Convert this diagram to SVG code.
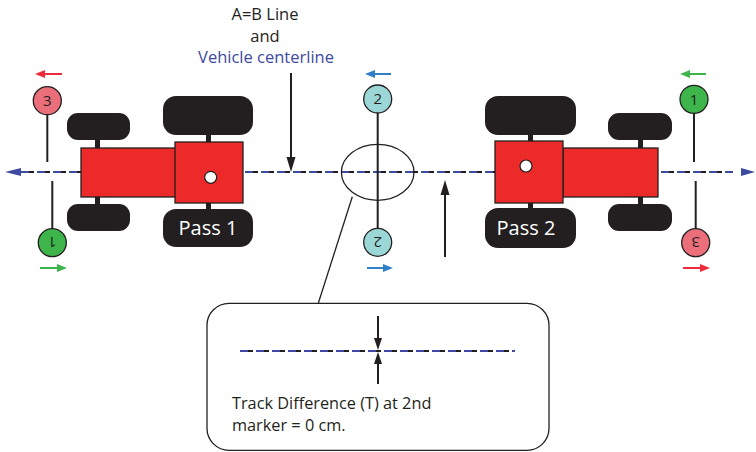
<svg xmlns="http://www.w3.org/2000/svg" width="756" height="452" viewBox="0 0 756 452">
  <style>
    .txt { font-family: "Open Sans", "Liberation Sans", sans-serif; fill: #231f20; }
    .blue-txt { fill: #3d4aa0; }
    .wheel { fill: #231f20; }
    .body { fill: #ed2a2a; stroke: #231f20; stroke-width: 1.3; }
    .hub { fill: #ffffff; stroke: #231f20; stroke-width: 1.2; }
    .pass { font-family: "Open Sans", "Liberation Sans", sans-serif; font-size: 20px; fill: #ffffff; text-anchor: middle; }
    .post { stroke: #231f20; stroke-width: 2; fill: none; }
    .num { font-family: "Open Sans", "Liberation Sans", sans-serif; font-size: 15px; fill: #231f20; text-anchor: middle; }
    .mk { stroke: #231f20; stroke-width: 1.3; }
    .line-k { stroke: #231f20; stroke-width: 2; stroke-dasharray: 8 8; stroke-dashoffset: -5; fill: none; }
    .line-b { stroke: #3d4aa0; stroke-width: 2; stroke-dasharray: 8 8; fill: none; }
    .thin { stroke: #231f20; stroke-width: 1.3; fill: none; }
    .ptr { stroke: #231f20; stroke-width: 2; fill: none; }
  </style>

  <!-- heading labels -->
  <g id="label-ab">
    <text class="txt" x="265" y="20" font-size="16.5" text-anchor="middle">A=B Line</text>
    <text class="txt" x="265" y="42" font-size="16.5" text-anchor="middle">and</text>
    <text class="txt blue-txt" x="266" y="63" font-size="16.5" text-anchor="middle">Vehicle centerline</text>
  </g>

  <!-- shared centerline -->
  <g id="connectors">
    <line class="line-k" x1="21" y1="172" x2="733" y2="172"/>
    <line class="line-b" x1="21" y1="172" x2="733" y2="172"/>
    <polygon points="5,172 21,168 21,176" fill="#3d4aa0"/>
    <polygon points="741,168 755,172 741,176" fill="#3d4aa0"/>

    <!-- pointer to the A=B line -->
    <line class="ptr" x1="291" y1="73" x2="291" y2="158"/>
    <polygon points="286.5,157 295.5,157 291,172" fill="#231f20"/>
    <!-- upward pointer -->
    <line class="ptr" x1="445" y1="194" x2="445" y2="257"/>
    <polygon points="440.5,195 449.5,195 445,180" fill="#231f20"/>

    <!-- callout ellipse and leader -->
    <ellipse class="thin" cx="377.7" cy="172.3" rx="36.3" ry="28"/>
    <line class="thin" x1="352.3" y1="196.7" x2="318.3" y2="303.3"/>
  </g>

  <!-- pass 1 tractor (facing left) -->
  <g id="tractor-pass1">
    <rect class="wheel" x="95" y="138" width="5" height="12"/>
    <rect class="wheel" x="95" y="195" width="5" height="11"/>
    <rect class="wheel" x="206" y="133" width="5" height="11"/>
    <rect class="wheel" x="206" y="201" width="5" height="10"/>
    <rect class="wheel" x="67" y="113" width="63" height="27" rx="11"/>
    <rect class="wheel" x="67" y="204" width="63" height="27" rx="11"/>
    <rect class="wheel" x="163" y="96" width="90" height="39" rx="13"/>
    <rect class="wheel" x="163" y="209" width="90" height="38" rx="13"/>
    <rect class="body" x="81" y="148" width="95" height="49"/>
    <rect class="body" x="175" y="142" width="68" height="61"/>
    <circle class="hub" cx="210.7" cy="177.3" r="6"/>
    <text class="pass" x="208" y="235">Pass 1</text>
  </g>

  <!-- pass 2 tractor (facing right) -->
  <g id="tractor-pass2">
    <rect class="wheel" x="638" y="138" width="5" height="12"/>
    <rect class="wheel" x="638" y="195" width="5" height="11"/>
    <rect class="wheel" x="528" y="133" width="5" height="11"/>
    <rect class="wheel" x="528" y="201" width="5" height="10"/>
    <rect class="wheel" x="608" y="113" width="64" height="27" rx="11"/>
    <rect class="wheel" x="608" y="204" width="64" height="27" rx="11"/>
    <rect class="wheel" x="485" y="96" width="91" height="39" rx="13"/>
    <rect class="wheel" x="485" y="208" width="91" height="40" rx="13"/>
    <rect class="body" x="563" y="148" width="95" height="49"/>
    <rect class="body" x="495" y="141" width="68" height="62"/>
    <circle class="hub" cx="526" cy="166" r="6"/>
    <text class="pass" x="526" y="235">Pass 2</text>
  </g>

  <!-- marker posts: left end -->
  <g id="marker-left">
    <line class="post" x1="47.3" y1="114" x2="47.3" y2="162"/>
    <line class="post" x1="52.3" y1="181" x2="52.3" y2="229"/>
    <circle class="mk" cx="47.3" cy="100.7" r="14" fill="#ea6f7b"/>
    <text class="num" x="47.3" y="106">3</text>
    <circle class="mk" cx="52.3" cy="242.7" r="14" fill="#3db54a"/>
    <text class="num" x="52.3" y="248" transform="rotate(180 52.3 242.7)">1</text>
    <line x1="44" y1="74" x2="62" y2="74" stroke="#ed2b3b" stroke-width="2"/>
    <polygon points="35,74 45,70 45,78" fill="#ed2b3b"/>
    <line x1="40" y1="268" x2="58" y2="268" stroke="#3db54a" stroke-width="2"/>
    <polygon points="67,268 57,264 57,272" fill="#3db54a"/>
  </g>

  <!-- marker posts: middle -->
  <g id="marker-middle">
    <line class="post" x1="377.7" y1="113" x2="377.7" y2="229"/>
    <circle class="mk" cx="377.7" cy="99" r="14" fill="#9cd7d7"/>
    <text class="num" x="377.7" y="104.3">2</text>
    <circle class="mk" cx="377.7" cy="242.3" r="14" fill="#9cd7d7"/>
    <text class="num" x="377.7" y="247.6" transform="rotate(180 377.7 242.3)">2</text>
    <line x1="374" y1="74" x2="391" y2="74" stroke="#2f80c8" stroke-width="2"/>
    <polygon points="365,74 375,70 375,78" fill="#2f80c8"/>
    <line x1="367" y1="268" x2="384" y2="268" stroke="#2f80c8" stroke-width="2"/>
    <polygon points="393,268 383,264 383,272" fill="#2f80c8"/>
  </g>

  <!-- marker posts: right end -->
  <g id="marker-right">
    <line class="post" x1="694" y1="113" x2="694" y2="162"/>
    <line class="post" x1="695.7" y1="181" x2="695.7" y2="229"/>
    <circle class="mk" cx="694" cy="99.3" r="14" fill="#3db54a"/>
    <text class="num" x="694" y="104.6">1</text>
    <circle class="mk" cx="695.7" cy="242.7" r="14" fill="#ea6f7b"/>
    <text class="num" x="695.7" y="248" transform="rotate(180 695.7 242.7)">3</text>
    <line x1="689" y1="74" x2="706" y2="74" stroke="#3db54a" stroke-width="2"/>
    <polygon points="680,74 690,70 690,78" fill="#3db54a"/>
    <line x1="683" y1="268" x2="701" y2="268" stroke="#ed2b3b" stroke-width="2"/>
    <polygon points="710,268 700,264 700,272" fill="#ed2b3b"/>
  </g>

  <!-- detail callout box -->
  <g id="detail-box">
    <rect class="thin" x="207" y="303.3" width="342" height="147" rx="22" fill="#ffffff"/>
    <line class="line-k" x1="240" y1="351" x2="515" y2="351"/>
    <line class="line-b" x1="240" y1="351" x2="515" y2="351"/>
    <line class="ptr" x1="378" y1="316" x2="378" y2="340"/>
    <polygon points="374,338 382,338 378,350" fill="#231f20"/>
    <line class="ptr" x1="378" y1="362" x2="378" y2="384"/>
    <polygon points="374,364 382,364 378,352" fill="#231f20"/>
    <text class="txt" x="232" y="409" font-size="16.3">Track Difference (T) at 2nd</text>
    <text class="txt" x="232" y="431" font-size="16.3">marker = 0 cm.</text>
  </g>
</svg>
